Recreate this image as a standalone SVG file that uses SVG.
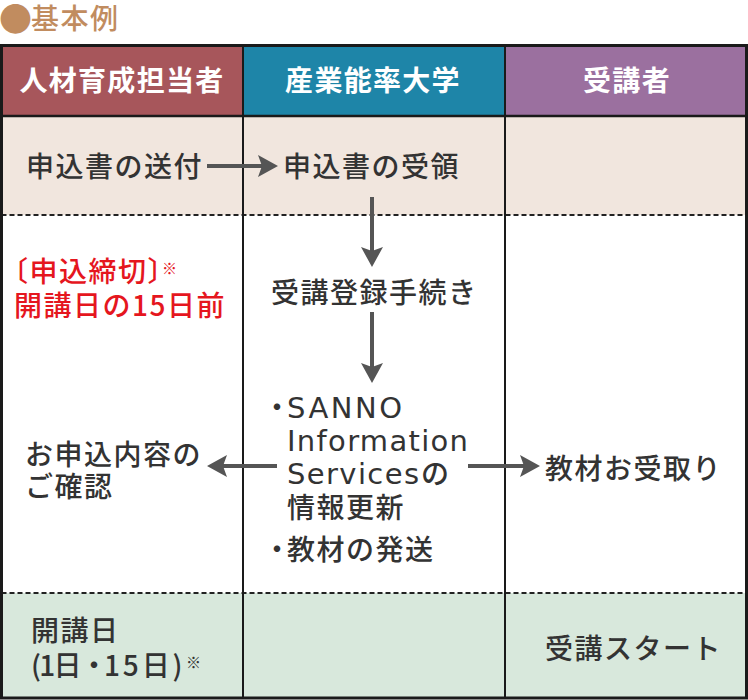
<svg xmlns="http://www.w3.org/2000/svg" width="748" height="700" viewBox="0 0 748 700">
<defs>
<style>
.t{font-family:"Noto Sans CJK JP","Noto Sans",sans-serif;font-size:28px;font-weight:500;fill:#333;letter-spacing:1.5px}
.h{fill:#fff;font-weight:bold;text-anchor:middle;letter-spacing:1.3px}
.r{fill:#E5161E}
.lat{font-family:"DejaVu Sans","Noto Sans CJK JP",sans-serif;font-size:29px;font-weight:normal;letter-spacing:0}
.sm{font-size:15px;letter-spacing:0}
.title{fill:#C18C5F}
.conn{stroke:#555;stroke-width:4;fill:none;marker-end:url(#ah)}
.grid{stroke:#1a1a1a;fill:none}
.dash{stroke:#222;stroke-width:2;stroke-dasharray:5 3}
</style>
<marker id="ah" viewBox="0 0 20 22" refX="14" refY="11" markerWidth="20" markerHeight="22" markerUnits="userSpaceOnUse" orient="auto">
<path d="M0,0 L20,11 L0,22 L4,11 Z" fill="#555"/>
</marker>
</defs>
<rect width="748" height="700" fill="#fff"/>
<g id="title"><text class="t title" y="29"><tspan x="-1" font-size="33" y="31">●</tspan><tspan x="31" y="29">基本例</tspan></text></g>
<g id="backgrounds">
<rect x="1.5" y="45.5" width="241.5" height="70.5" fill="#A7565B"/>
<rect x="243" y="45.5" width="262" height="70.5" fill="#1E85A8"/>
<rect x="505" y="45.5" width="241.5" height="70.5" fill="#9B709F"/>
<rect x="1.5" y="116" width="745" height="99" fill="#F1E6DE"/>
<rect x="1.5" y="593" width="745" height="105" fill="#D8E8DC"/>
</g>
<g id="grid">
<line class="dash" x1="1.5" y1="215" x2="746.5" y2="215"/>
<line class="dash" x1="1.5" y1="593" x2="746.5" y2="593"/>
<line class="grid" x1="1.5" y1="116" x2="746.5" y2="116" stroke-width="2.5"/>
<line class="grid" x1="243" y1="45" x2="243" y2="698" stroke-width="2"/>
<line class="grid" x1="505" y1="45" x2="505" y2="698" stroke-width="2"/>
<rect class="grid" x="1.5" y="45.5" width="745" height="652.5" stroke-width="3"/>
</g>
<g id="header-hr"><text class="t h" x="122" y="91">人材育成担当者</text></g>
<g id="header-sanno"><text class="t h" x="373" y="91">産業能率大学</text></g>
<g id="header-student"><text class="t h" x="627" y="91">受講者</text></g>
<g id="n-send"><text class="t" x="26" y="177">申込書の送付</text></g>
<g id="n-receive"><text class="t" x="283" y="177">申込書の受領</text></g>
<g id="n-deadline">
<text class="t r" y="282"><tspan x="0">〔申込締切〕</tspan><tspan class="sm" x="162" y="274">※</tspan></text>
<text class="t r" x="14" y="316">開講日の15日前</text>
</g>
<g id="n-register"><text class="t" x="271" y="303">受講登録手続き</text></g>
<g id="n-update">
<text class="t" y="418"><tspan x="263">・</tspan><tspan class="lat" x="287" textLength="115" lengthAdjust="spacing">SANNO</tspan></text>
<text class="t lat" x="287" y="451" textLength="181" lengthAdjust="spacing">Information</text>
<text class="t" y="484"><tspan class="lat" x="287" textLength="132" lengthAdjust="spacing">Services</tspan><tspan x="421">の</tspan></text>
<text class="t" x="287" y="518">情報更新</text>
<text class="t" y="560"><tspan x="263">・</tspan><tspan x="287">教材の発送</tspan></text>
</g>
<g id="n-confirm">
<text class="t" x="25" y="465">お申込内容の</text>
<text class="t" x="25" y="497">ご確認</text>
</g>
<g id="n-materials"><text class="t" x="545" y="479">教材お受取り</text></g>
<g id="n-start">
<text class="t" x="31" y="641">開講日</text>
<text class="t" y="676"><tspan x="31" textLength="52" lengthAdjust="spacing">(1日</tspan><tspan x="80">・</tspan><tspan x="104" textLength="80" lengthAdjust="spacing">15日)</tspan><tspan class="sm" x="186" y="668">※</tspan></text>
</g>
<g id="n-course"><text class="t" x="545" y="659">受講スタート</text></g>
<g id="connectors">
<line class="conn" x1="207" y1="166" x2="272" y2="166"/>
<line class="conn" x1="372" y1="197" x2="372" y2="261"/>
<line class="conn" x1="372" y1="312" x2="372" y2="377"/>
<line class="conn" x1="277" y1="466" x2="213" y2="466"/>
<line class="conn" x1="468" y1="466" x2="534" y2="466"/>
</g>
</svg>
